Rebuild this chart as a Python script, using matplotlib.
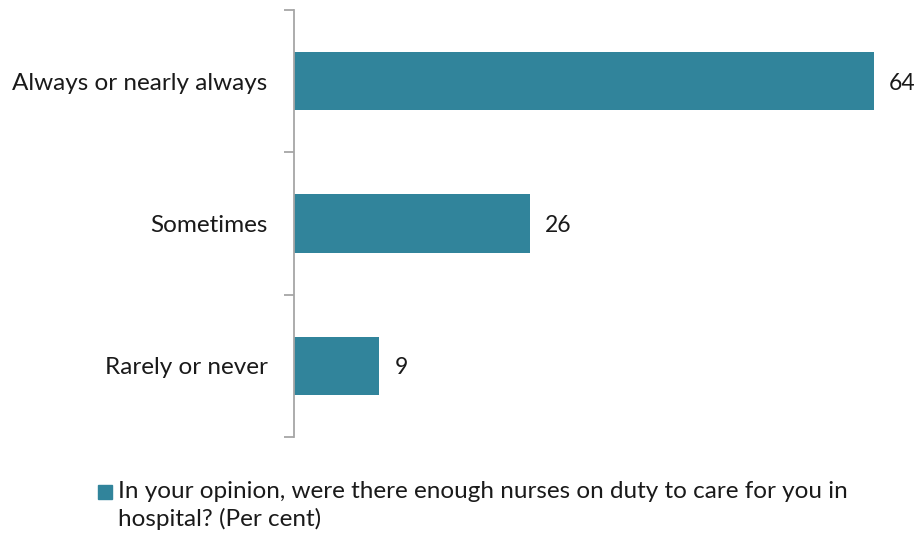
import matplotlib
matplotlib.use("Agg")
import matplotlib.pyplot as plt
from matplotlib.patches import Rectangle

categories = ["Always or nearly always", "Sometimes", "Rarely or never"]
values = [64.0, 26.0, 9.4]
value_labels = ["64", "26", "9"]
legend_text = ("In your opinion, were there enough nurses on duty to care for you in\n"
               "hospital? (Per cent)")

BAR = "#31849B"
AXIS = "#A6A6A6"
W, H = 917, 536
plt.rcParams['font.family'] = ['Lato', 'DejaVu Sans']

fig = plt.figure(figsize=(W / 100, H / 100), dpi=100)
ax = fig.add_axes([294 / W, 1 - 437 / H, (910 - 294) / W, (437 - 10) / H])

ypos = list(range(len(categories)))
bars = ax.barh(ypos, values, height=0.41, color=BAR, zorder=2)
texts = ax.bar_label(bars, labels=value_labels, padding=11, fontsize=16.5, color="#1a1a1a")
for t in texts:
    t.set_va("center_baseline")

ax.set_xlim(0, 68)
ax.set_ylim(len(categories) - 0.5, -0.5)
ax.set_xticks([])
ax.set_yticks([i - 0.5 for i in range(len(categories) + 1)])
ax.set_yticklabels([])
ax.set_yticks(ypos, minor=True)
ax.set_yticklabels(categories, minor=True, fontsize=17.5, color="#1a1a1a")
ax.tick_params(axis="y", which="major", length=7, width=1.3, color=AXIS)
ax.tick_params(axis="y", which="minor", length=0, pad=19)
for s in ["top", "right", "bottom"]:
    ax.spines[s].set_visible(False)
ax.spines["left"].set_color(AXIS)
ax.spines["left"].set_linewidth(1.3)

# legend
fig.patches.append(Rectangle((98 / W, 1 - 499 / H), 14 / W, 14 / H,
                             transform=fig.transFigure, color=BAR))
fig.text(118 / W, 1 - 481 / H, legend_text, fontsize=17.5, va="top", ha="left",
         color="#1a1a1a", linespacing=1.3)

fig.savefig("out.png", dpi=100)
